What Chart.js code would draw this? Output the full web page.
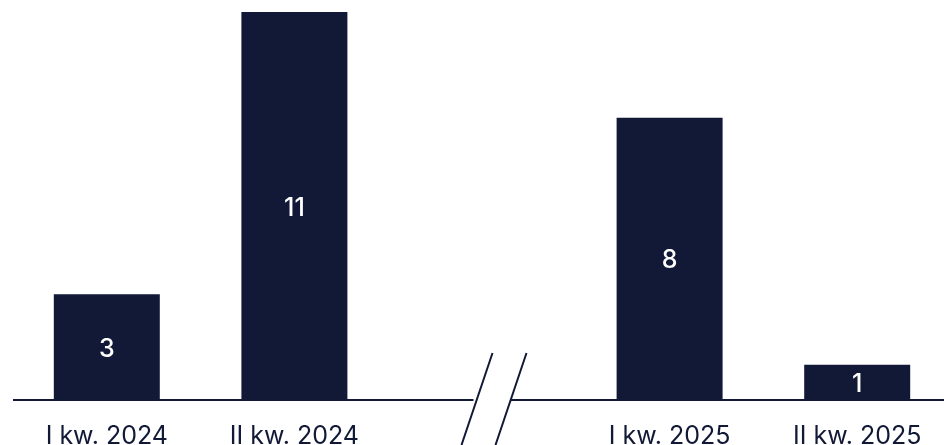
<!DOCTYPE html>
<html>
<head>
<meta charset="utf-8">
<script src="https://cdn.jsdelivr.net/npm/chart.js@4.4.1/dist/chart.umd.min.js"></script>
<style>
    html, body
    {
        margin: 0;
        padding: 0;
        background: #ffffff;
        overflow: hidden;
    }
    #wrap
    {
        width: 944px;
        height: 445px;
        overflow: hidden;
    }
</style>
</head>
<body>
<div id="wrap">
    <canvas id="myChart" width="951" height="445"></canvas>
</div>
<script>
// kwartały; pusta kategoria w środku to miejsce na przerwę osi
const kwartaly = ['I kw. 2024', 'II kw. 2024', '', 'I kw. 2025', 'II kw. 2025'];
const wartosci = [3, 11, null, 8, 1];

const granat = '#111936';

// liczby w środku słupków
const etykietySlupkow =
{
    id: 'etykietySlupkow',
    afterDatasetsDraw(chart)
    {
        const ctx = chart.ctx;
        const meta = chart.getDatasetMeta(0);

        ctx.save();
        ctx.fillStyle = '#ffffff';
        ctx.font = '500 25px Inter';
        ctx.textAlign = 'center';
        ctx.textBaseline = 'middle';

        meta.data.forEach((bar, i) =>
        {
            const v = wartosci[i];
            if (v === null)
            {
                return;
            }
            ctx.fillText(String(v), bar.x, (bar.y + bar.base) / 2 + 2);
        });

        ctx.restore();
    }
};

// linia bazowa z przerwą i dwoma ukośnikami
const przerwaOsi =
{
    id: 'przerwaOsi',
    afterDraw(chart)
    {
        const ctx = chart.ctx;
        const area = chart.chartArea;
        const cx = chart.scales.x.getPixelForValue(2);
        const y = area.bottom;

        ctx.save();
        ctx.strokeStyle = granat;
        ctx.lineWidth = 2;

        ctx.beginPath();
        ctx.moveTo(area.left, y);
        ctx.lineTo(cx - 8.5, y);
        ctx.moveTo(cx + 29, y);
        ctx.lineTo(area.right, y);
        ctx.stroke();

        ctx.beginPath();
        ctx.moveTo(cx + 10.5, 353);
        ctx.lineTo(cx - 20.5, 445);
        ctx.moveTo(cx + 44.5, 353);
        ctx.lineTo(cx + 13.5, 445);
        ctx.stroke();

        ctx.restore();
    }
};

const ctx = document.getElementById('myChart');

const data =
{
    labels: kwartaly,
    datasets:
    [
        {
            data: wartosci,
            backgroundColor: granat,
            borderWidth: 0,
            categoryPercentage: 1,
            barPercentage: 0.565
        }
    ]
};

new Chart(ctx,
{
    type: 'bar',
    data: data,
    options:
    {
        responsive: false,
        animation: false,
        layout:
        {
            padding:
            {
                left: 13,
                right: 0,
                top: 12,
                bottom: -19
            }
        },
        plugins:
        {
            legend: { display: false },
            tooltip: { enabled: false }
        },
        scales:
        {
            x:
            {
                grid: { display: false },
                border: { display: false },
                ticks:
                {
                    color: granat,
                    padding: 13,
                    maxRotation: 0,
                    autoSkip: false,
                    font:
                    {
                        family: 'Inter',
                        size: 25,
                        weight: 400
                    }
                }
            },
            y:
            {
                display: false,
                min: 0,
                max: 11
            }
        }
    },
    plugins: [etykietySlupkow, przerwaOsi]
});
</script>
</body>
</html>
